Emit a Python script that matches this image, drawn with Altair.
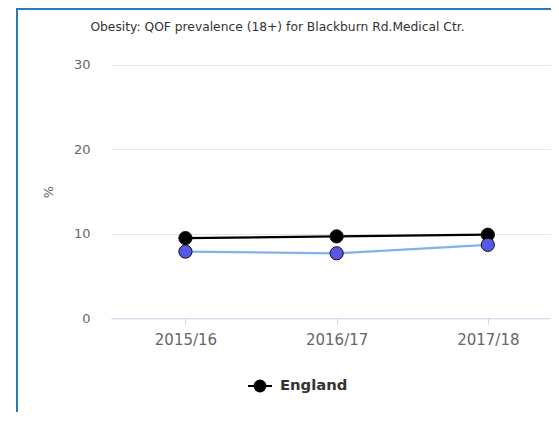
import altair as alt
import pandas as pd

years = ["2015/16", "2016/17", "2017/18"]
england = [9.5, 9.7, 9.9]
practice = [7.9, 7.7, 8.7]
series_names = ["England", "Blackburn Rd.Medical Ctr."]
title_text = "Obesity: QOF prevalence (18+) for Blackburn Rd.Medical Ctr."

rows = []
for y, v in zip(years, england):
    rows.append({"year": y, "value": v, "series": series_names[0]})
for y, v in zip(years, practice):
    rows.append({"year": y, "value": v, "series": series_names[1]})
df = pd.DataFrame(rows)

FONT = "DejaVu Sans"
W, H = 440, 253.3

x_enc = alt.X("year:N", sort=years,
              scale=alt.Scale(type="point", padding=0.455, align=0.541),
              axis=alt.Axis(title=None, labelAngle=0, labelFont=FONT, labelFontSize=15,
                            labelColor="#666666", domainColor="#ccd6eb", domainWidth=1,
                            tickColor="#ccd6eb", tickSize=6, labelPadding=8, grid=False))
y_enc = alt.Y("value:Q", scale=alt.Scale(domain=[0, 30], nice=False),
              axis=alt.Axis(title="%", values=[0, 10, 20, 30], domain=False, ticks=False,
                            labelFont=FONT, labelFontSize=13, labelColor="#666666",
                            labelPadding=21, gridColor="#e6e6e6", gridWidth=1,
                            titleFont=FONT, titleFontSize=13, titleFontWeight="normal",
                            titleColor="#666666", titleX=-63, titleY=126.5,
                            titleAlign="center", titleBaseline="middle", titleAngle=-90))

legend_path = "M-1,0L1,0M0.45,0A0.45,0.45,0,1,1,-0.45,0A0.45,0.45,0,1,1,0.45,0Z"

base = alt.Chart(df)

lines = base.mark_line(strokeWidth=2.3).encode(
    x=x_enc, y=y_enc,
    color=alt.Color("series:N",
                    scale=alt.Scale(domain=series_names, range=["#000000", "#7cb5ec"]),
                    legend=alt.Legend(values=["England"], title=None, orient="none",
                                      legendX=136, legendY=308, padding=0,
                                      symbolType=legend_path, symbolSize=576,
                                      symbolFillColor="#000000", symbolStrokeColor="#000000",
                                      symbolStrokeWidth=2, labelFont=FONT, labelFontSize=14.8,
                                      labelFontWeight="bold", labelColor="#333333",
                                      labelOffset=7)),
)

points = base.mark_point(filled=True, size=175, opacity=1, stroke="#111111",
                         strokeWidth=1).encode(
    x=x_enc, y=y_enc,
    fill=alt.Fill("series:N",
                  scale=alt.Scale(domain=series_names, range=["#000000", "#5858e6"]),
                  legend=None),
)

one = alt.Data(values=[{"t": title_text}])
title_mark = alt.Chart(one).mark_text(font=FONT, fontSize=12.3, color="#333333",
                                      align="center", baseline="middle").encode(
    text="t:N", x=alt.value(166.5), y=alt.value(-38.3))

left_border = alt.Chart(one).mark_rule(color="#2a79b8", strokeWidth=2).encode(
    x=alt.value(-94), y=alt.value(-56), y2=alt.value(360))
top_border = alt.Chart(one).mark_rule(color="#2a79b8", strokeWidth=2).encode(
    y=alt.value(-56), x=alt.value(-95), x2=alt.value(W))

chart = alt.layer(left_border, top_border, title_mark, lines, points).properties(
    width=W, height=H,
    background="white",
    autosize=alt.AutoSizeParams(type="none"),
    padding={"left": 103, "top": 57, "right": 0, "bottom": 94},
).configure_view(stroke="transparent", strokeWidth=0)

chart.save("out.html", embed_options={"renderer": "svg", "actions": False})
